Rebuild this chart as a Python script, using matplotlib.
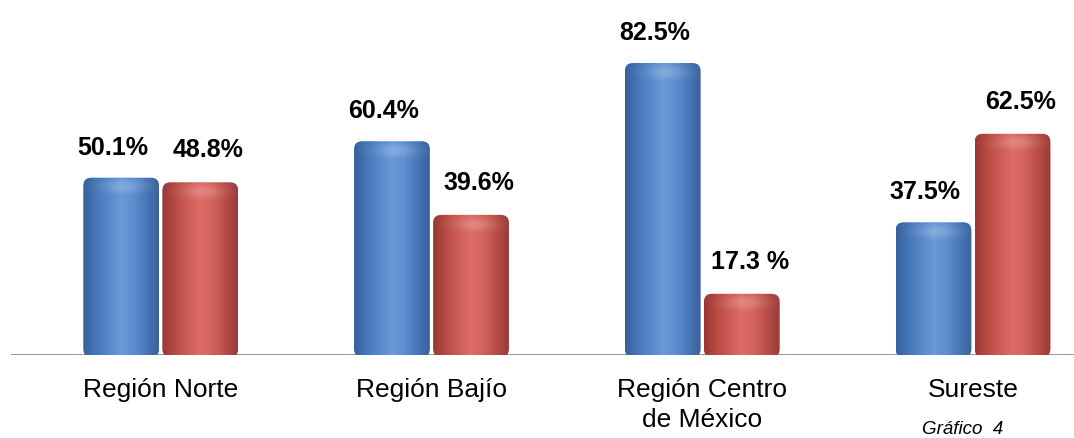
import numpy as np
import matplotlib.pyplot as plt
from matplotlib.colors import LinearSegmentedColormap
from matplotlib.patches import FancyBboxPatch

plt.rcParams['font.family'] = ['Liberation Sans', 'DejaVu Sans']

regiones = ["Región Norte", "Región Bajío", "Región Centro\nde México", "Sureste"]
serie_azul = [50.1, 60.4, 82.5, 37.5]
serie_roja = [48.8, 39.6, 17.3, 62.5]
etiquetas_azul = ["50.1%", "60.4%", "82.5%", "37.5%"]
etiquetas_roja = ["48.8%", "39.6%", "17.3 %", "62.5%"]

W, H = 1074, 438
fig = plt.figure(figsize=(W / 100, H / 100), dpi=100)
ax = fig.add_axes([11 / W, (H - 355) / H, 1 - 11 / W, 355 / H])
ax.axis("off")

ancho = 0.28
desp = 0.146
# 271 px por unidad en x, 3.54 px por unidad en y
aspecto = 271 / 3.54

cmap_azul = LinearSegmentedColormap.from_list(
    "azul", ["#35609c", "#4677b8", "#5888c9", "#6a9ad8", "#5e8ecf", "#4878b8", "#38629a"])
cmap_rojo = LinearSegmentedColormap.from_list(
    "rojo", ["#983733", "#b84b44", "#cd5b56", "#de6d68", "#d3625d", "#b84d47", "#9a3a36"])


def cilindro(x0, valor, cmap):
    # gradiente horizontal para dar volumen
    t = np.linspace(0, 1, 200)
    grad = np.tile(t, (60, 1))
    caja = FancyBboxPatch((x0, -0.6), ancho, valor + 0.6,
                          boxstyle="round,pad=0,rounding_size=0.03",
                          mutation_aspect=aspecto,
                          facecolor="none", edgecolor="none")
    ax.add_patch(caja)
    im = ax.imshow(grad, cmap=cmap, aspect="auto", interpolation="bilinear",
                   extent=(x0, x0 + ancho, -0.6, valor), origin="lower", zorder=2)
    im.set_clip_path(caja)
    # brillo en la parte superior
    alto = min(5.0, valor * 0.3)
    brillo = np.zeros((40, 200, 4))
    brillo[..., :3] = 1.0
    yy = np.linspace(0, 1, 40)[:, None]
    xx = np.linspace(0, 1, 200)[None, :]
    brillo[..., 3] = 0.18 * np.sin(np.pi * yy) * np.exp(-((xx - 0.55) / 0.3) ** 2)
    im2 = ax.imshow(brillo, aspect="auto", interpolation="bilinear",
                    extent=(x0, x0 + ancho, valor - alto, valor - 0.3),
                    origin="lower", zorder=3)
    im2.set_clip_path(caja)


x = np.arange(len(regiones))
for i in x:
    cilindro(i - desp - ancho / 2, serie_azul[i], cmap_azul)
    cilindro(i + desp - ancho / 2, serie_roja[i], cmap_rojo)
    ax.text(i - desp - 0.03, serie_azul[i] + 8.5, etiquetas_azul[i], ha="center",
            va="center", fontsize=18, fontweight="bold", zorder=4)
    ax.text(i + desp + 0.03, serie_roja[i] + 9.0, etiquetas_roja[i], ha="center",
            va="center", fontsize=18, fontweight="bold", zorder=4)

ax.axhline(0, color="#8c8c8c", lw=2, zorder=1)
ax.set_xlim(-0.553, 3.373)
ax.set_ylim(0, 100.3)

for i, r in enumerate(regiones):
    ax.text(i, -6.6, r, ha="center", va="top", fontsize=19,
            linespacing=1.32, clip_on=False)

fig.text(963 / W, 4 / H, "Gráfico  4", ha="center", va="baseline",
         fontsize=13.5, style="italic")

fig.savefig("out.png", dpi=100)
